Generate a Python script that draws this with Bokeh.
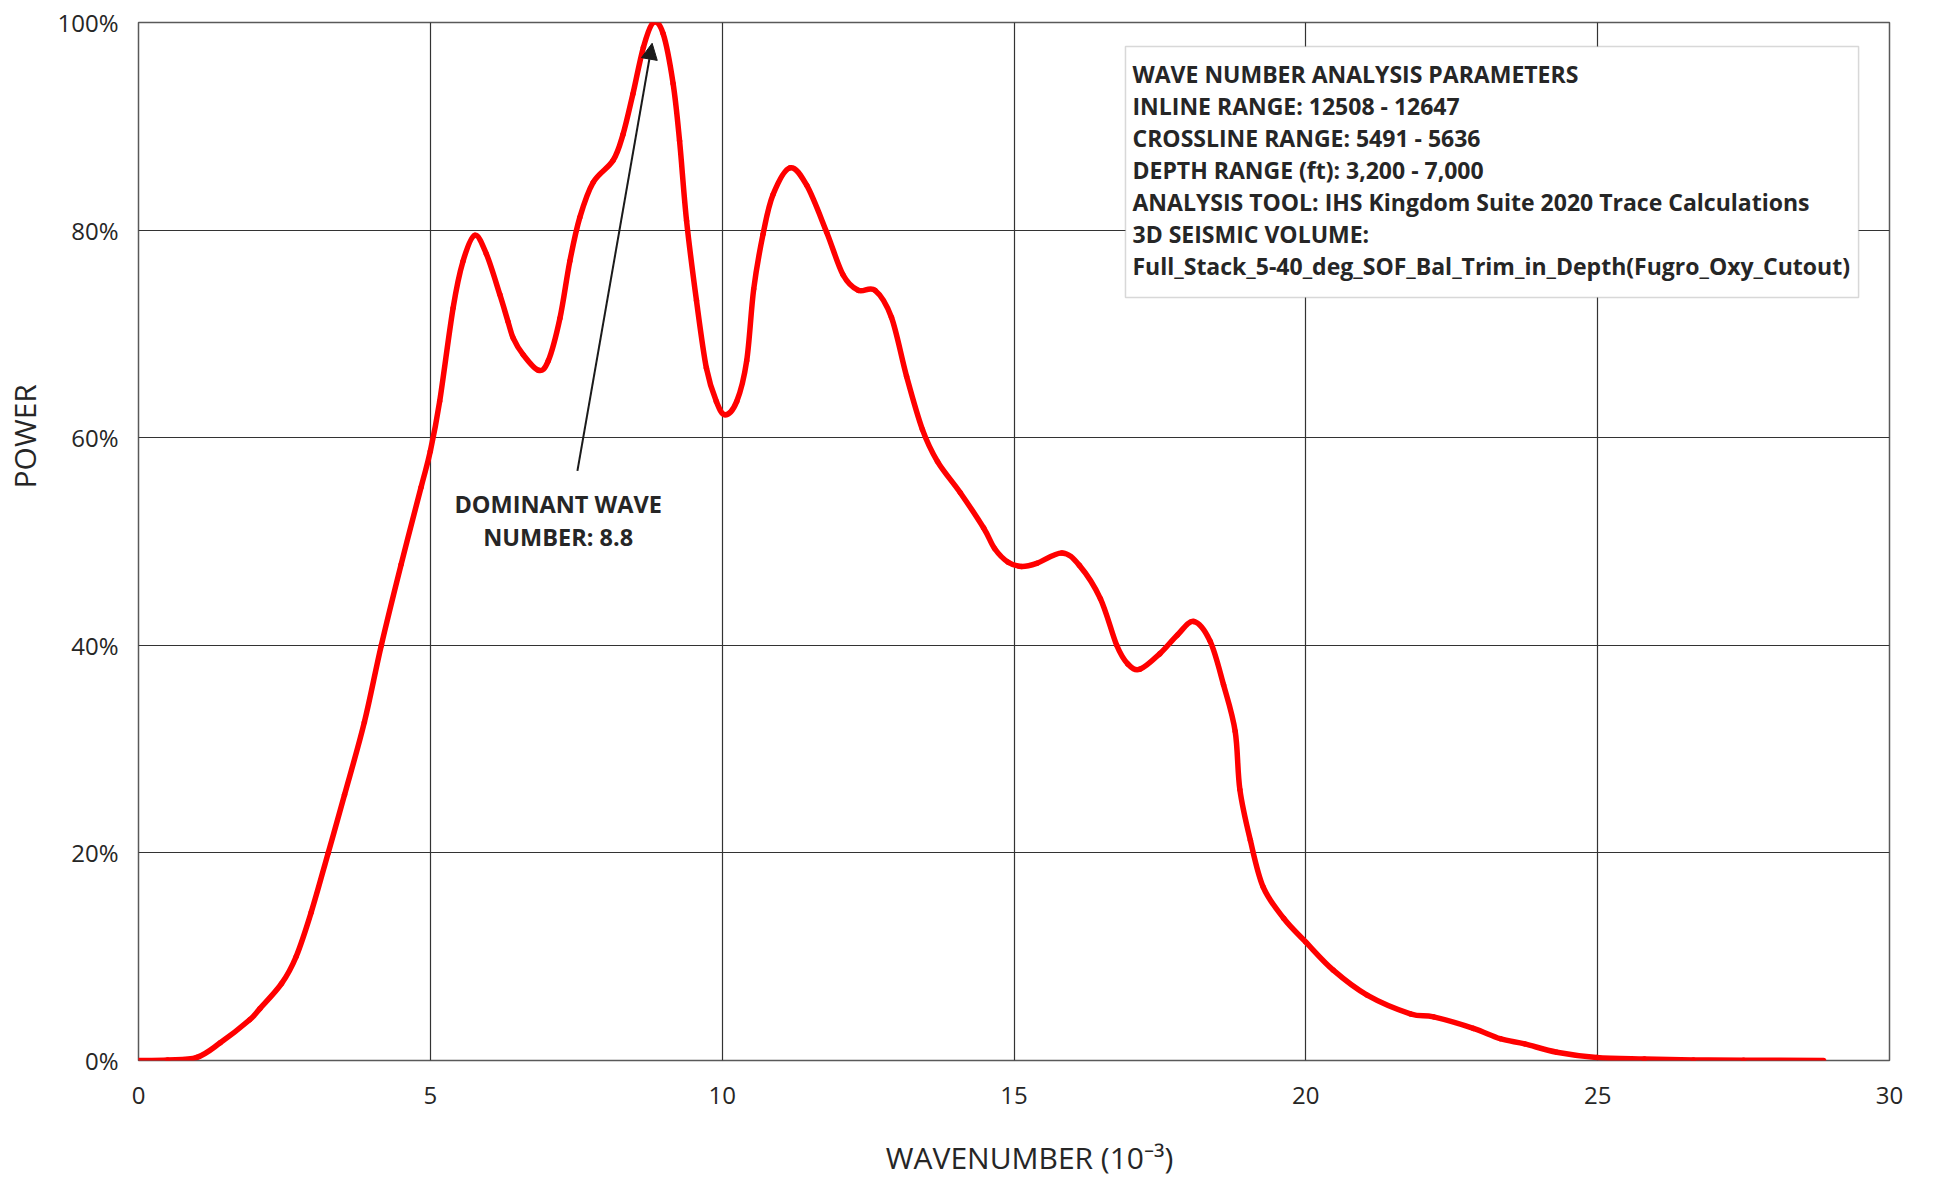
import math
from bokeh.plotting import figure
from bokeh.models import (Range1d, FixedTicker, Label, BoxAnnotation, Arrow, NormalHead,
                          ColumnDataSource)
from bokeh.embed import file_html
from bokeh.resources import INLINE

# ---- data ----
wavenumber = [0, 0.5, 1.0, 1.4, 1.9, 2.08, 2.45, 2.7, 2.96, 3.25, 3.53, 3.87, 4.16, 4.5, 4.84,
              5.0, 5.16, 5.39, 5.56, 5.76, 5.96, 6.19, 6.33, 6.42, 6.59, 6.85, 7.02, 7.22, 7.39,
              7.56, 7.79, 8.13, 8.30, 8.47, 8.65, 8.82, 8.99, 9.16, 9.27, 9.39, 9.56, 9.73, 9.90,
              10.05, 10.25, 10.42, 10.54, 10.70, 10.87, 11.16, 11.45, 11.79, 12.07, 12.33, 12.62,
              12.90, 13.16, 13.43, 13.69, 14.08, 14.48, 14.67, 14.9, 15.13, 15.39, 15.82, 16.12,
              16.48, 16.76, 16.95, 17.16, 17.50, 17.80, 18.08, 18.36, 18.59, 18.79, 18.87, 19.05,
              19.27, 19.62, 20.0, 20.47, 21.05, 21.79, 22.19, 22.87, 23.33, 23.75, 24.3, 24.98,
              25.8, 26.64, 27.5, 28.87]
power = [0, 0.05, 0.3, 1.7, 3.9, 5.0, 7.4, 10.0, 14.3, 20.0, 25.6, 32.6, 40.0, 47.8, 55.2,
         58.7, 63.5, 72.5, 77.0, 79.5, 77.7, 73.8, 71.2, 69.6, 68.0, 66.5, 67.4, 71.5, 77.0,
         81.2, 84.6, 86.7, 89.2, 93.1, 97.6, 100, 98.9, 94.1, 88.6, 80.9, 73.2, 66.7, 63.5,
         62.2, 63.5, 67.4, 74.3, 79.6, 83.4, 86.0, 84.3, 79.8, 75.7, 74.2, 74.2,
         71.6, 65.9, 60.8, 57.7, 54.7, 51.3, 49.3, 48.0, 47.6, 47.9, 48.9, 47.7,
         44.5, 40.0, 38.2, 37.7, 39.2, 41.0, 42.3, 40.4, 36.2, 31.7, 26.1, 21.2,
         16.7, 13.7, 11.4, 8.7, 6.3, 4.5, 4.2, 3.1, 2.1, 1.6, 0.8, 0.3,
         0.15, 0.06, 0.03, 0]
assert len(wavenumber) == len(power)

x_ticks = [0, 5, 10, 15, 20, 25, 30]
y_ticks = [0, 20, 40, 60, 80, 100]
y_tick_labels = ["0%", "20%", "40%", "60%", "80%", "100%"]

dominant = 8.8
dominant_label = ["DOMINANT WAVE", "NUMBER: 8.8"]
info_lines = [
    "WAVE NUMBER ANALYSIS PARAMETERS",
    "INLINE RANGE: 12508 - 12647",
    "CROSSLINE RANGE: 5491 - 5636",
    "DEPTH RANGE (ft): 3,200 - 7,000",
    "ANALYSIS TOOL: IHS Kingdom Suite 2020 Trace Calculations",
    "3D SEISMIC VOLUME:",
    "Full_Stack_5-40_deg_SOF_Bal_Trim_in_Depth(Fugro_Oxy_Cutout)",
]

FONT = "Open Sans"
TXT = "#262626"
NB = "\u00a0"

p = figure(width=1925, height=1180, output_backend="svg", toolbar_location=None,
           x_range=Range1d(0, 30), y_range=Range1d(0, 100))
p.min_border_left = 138
p.min_border_right = 36
p.min_border_top = 22
p.min_border_bottom = 120
p.background_fill_color = "white"
p.border_fill_color = "white"
p.outline_line_color = "#595959"
p.outline_line_width = 1.5

# grid
for g in (p.xgrid, p.ygrid):
    g.grid_line_color = "#333333"
    g.grid_line_width = 1.2
p.xgrid.ticker = FixedTicker(ticks=x_ticks)
p.ygrid.ticker = FixedTicker(ticks=y_ticks)

# axes
p.xaxis.ticker = FixedTicker(ticks=x_ticks)
p.yaxis.ticker = FixedTicker(ticks=y_ticks)
p.yaxis.major_label_overrides = {t: l for t, l in zip(y_ticks, y_tick_labels)}
for ax in (p.xaxis, p.yaxis):
    ax.axis_line_color = None
    ax.major_tick_line_color = None
    ax.minor_tick_line_color = None
    ax.major_tick_out = 0
    ax.major_tick_in = 0
    ax.major_label_text_font = FONT
    ax.major_label_text_font_size = "24px"
    ax.major_label_text_color = TXT
    ax.axis_label_text_font = FONT
    ax.axis_label_text_font_style = "normal"
    ax.axis_label_text_color = TXT
    ax.axis_label_text_font_size = "30px"
p.xaxis.major_label_standoff = 26
p.yaxis.major_label_standoff = 20
# leading no-break spaces shift the titles to where the reference shows them
p.xaxis.axis_label = NB * 4 + "WAVENUMBER (10\u207b\u00b3)"
p.xaxis.axis_label_standoff = 30
p.yaxis.axis_label = NB * 27 + "POWER"
p.yaxis.axis_label_standoff = 9

# curve: smooth cubic segments through every data point (like a smoothed line)
xs0, ys0, xs1, ys1, cx0, cy0, cx1, cy1 = [], [], [], [], [], [], [], []
n = len(wavenumber)
for i in range(n - 1):
    a = max(i - 1, 0)
    d = min(i + 2, n - 1)
    xs0.append(wavenumber[i]); ys0.append(power[i])
    xs1.append(wavenumber[i + 1]); ys1.append(power[i + 1])
    cx0.append(wavenumber[i] + (wavenumber[i + 1] - wavenumber[a]) / 6)
    cy0.append(power[i] + (power[i + 1] - power[a]) / 6)
    cx1.append(wavenumber[i + 1] - (wavenumber[d] - wavenumber[i]) / 6)
    cy1.append(power[i + 1] - (power[d] - power[i]) / 6)
src = ColumnDataSource(dict(x0=xs0, y0=ys0, x1=xs1, y1=ys1,
                            cx0=cx0, cy0=cy0, cx1=cx1, cy1=cy1))
p.bezier(x0="x0", y0="y0", x1="x1", y1="y1", cx0="cx0", cy0="cy0", cx1="cx1", cy1="cy1",
         source=src, line_color="#ff0000", line_width=5.5, line_cap="round")

# dominant wavenumber annotation
p.add_layout(Arrow(end=NormalHead(size=16, fill_color="#1a1a1a", line_color="#1a1a1a"),
                   x_start=7.52, y_start=56.8, x_end=dominant, y_end=98.0,
                   line_color="#1a1a1a", line_width=2))
for i, t in enumerate(dominant_label):
    p.add_layout(Label(x=7.19, y=53.6 - i * 3.15, text=t, text_font=FONT,
                       text_font_size="23.5px", text_font_style="bold", text_color=TXT,
                       text_align="center", text_baseline="middle"))

# parameter box
p.add_layout(BoxAnnotation(left=16.91, right=29.47, bottom=73.5, top=97.69,
                           fill_color="white", fill_alpha=1.0,
                           line_color="#7f7f7f", line_width=1.5))
for i, t in enumerate(info_lines):
    p.add_layout(Label(x=17.03, y=(1060 - (73 + 32 * i)) / 10.38, text=t,
                       text_font=FONT, text_font_size="23px", text_font_style="bold",
                       text_color=TXT, text_align="left", text_baseline="middle"))

open("out.html", "w").write(file_html(p, INLINE))
